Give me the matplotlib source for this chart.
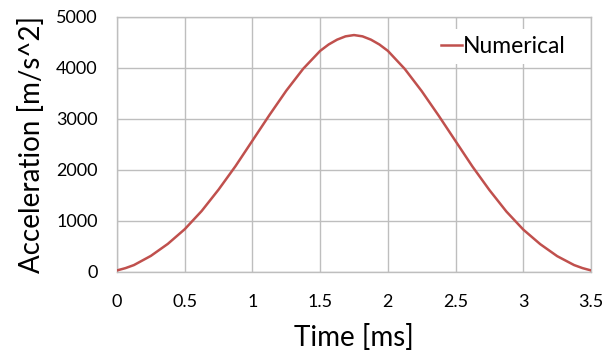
import matplotlib
matplotlib.use("Agg")
import matplotlib.pyplot as plt

time_ms = [0.0, 0.0625, 0.125, 0.25, 0.375, 0.5, 0.625, 0.75, 0.875, 1.0,
           1.125, 1.25, 1.375, 1.5, 1.5625, 1.625, 1.6875, 1.75, 1.8125, 1.875,
           1.9375, 2.0, 2.125, 2.25, 2.375, 2.5, 2.625, 2.75, 2.875, 3.0,
           3.125, 3.25, 3.375, 3.4375, 3.5]
accel = [25, 70, 130, 310, 545, 833, 1190, 1610, 2070, 2570,
         3070, 3550, 3980, 4330, 4455, 4550, 4615, 4640, 4615, 4550,
         4455, 4330, 3975, 3540, 3060, 2560, 2060, 1600, 1180, 825,
         540, 305, 130, 70, 25]

x_ticks = [0, 0.5, 1, 1.5, 2, 2.5, 3, 3.5]
x_tick_labels = ["0", "0.5", "1", "1.5", "2", "2.5", "3", "3.5"]
y_ticks = [0, 1000, 2000, 3000, 4000, 5000]

plt.rcParams['font.family'] = ['Lato', 'DejaVu Sans']

fig = plt.figure(figsize=(6.05, 3.54), dpi=100)
ax = fig.add_axes([0.1934, 0.2325, 0.7835, 0.7203])

ax.plot(time_ms, accel, color='#C0504D', lw=1.8, label='Numerical', zorder=3,
        solid_joinstyle='round')

ax.set_xlim(0, 3.5)
ax.set_ylim(0, 5000)
ax.set_xticks(x_ticks)
ax.set_xticklabels(x_tick_labels)
ax.set_yticks(y_ticks)
ax.grid(True, color='#BEBEBE', lw=1.0)
ax.set_axisbelow(True)
for s in ax.spines.values():
    s.set_color('#BEBEBE')
    s.set_linewidth(1.0)
ax.tick_params(length=0, labelsize=13, pad=14, colors='black')
ax.tick_params(axis='x', pad=16)

ax.set_xlabel('Time [ms]', fontsize=20, labelpad=10)
ax.set_ylabel('Acceleration [m/s^2]', fontsize=20, labelpad=8)

leg = ax.legend(loc='upper right', fontsize=16.5, frameon=True, framealpha=1,
                edgecolor='none', handlelength=0.9, handletextpad=0.05,
                borderpad=0.3, bbox_to_anchor=(0.985, 0.995))
leg.get_frame().set_linewidth(0)

fig.savefig('out.png', dpi=100, facecolor='white')
